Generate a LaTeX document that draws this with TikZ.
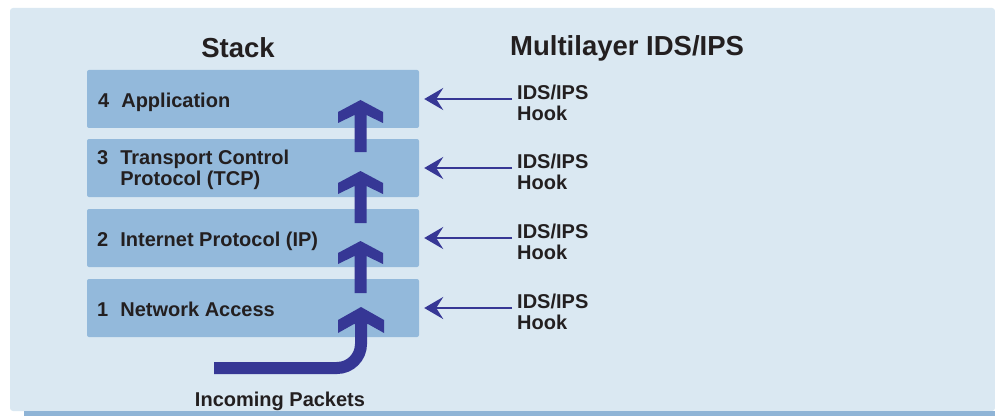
\documentclass[tikz,border=0pt]{standalone}
\usepackage{fontspec}
\setmainfont{Liberation Sans}
\usetikzlibrary{positioning}
\usetikzlibrary{arrows.meta}
\definecolor{panelblue}{HTML}{DAE8F2}
\definecolor{layerblue}{HTML}{93B9DB}
\definecolor{stripblue}{HTML}{8FB4D6}
\definecolor{flowblue}{HTML}{363795}
\definecolor{inkgray}{HTML}{231F20}

\begin{document}
\begin{tikzpicture}[x=1pt, y=-1pt, font=\bfseries, text=inkgray,
	layer/.style={rectangle,rounded corners=2pt,fill=layerblue,minimum width=332pt,minimum height=58pt,inner sep=0pt},
	layertext/.style={anchor=west,inner sep=0pt,font=\fontsize{20}{20.5}\selectfont\bfseries},
	hooktext/.style={anchor=west,inner sep=0pt,align=left,font=\fontsize{20}{21}\selectfont\bfseries},
	titletext/.style={inner sep=0pt,font=\fontsize{27.5}{30}\selectfont\bfseries},
	hookarrow/.style={draw=flowblue,line width=2.5pt,-{Stealth[length=19pt,width=22pt,inset=7pt]},shorten <=5pt,shorten >=5pt},
	uparrow/.pic={\fill[flowblue] (0,0) -- (22.5,12) -- (22.5,23) -- (6,15) -- (6,52) -- (-6,52) -- (-6,15) -- (-22.5,23) -- (-22.5,12) -- cycle;},
	uphead/.pic={\fill[flowblue] (0,0) -- (23,13) -- (23,26) -- (7,17) -- (-7,17) -- (-23,26) -- (-23,13) -- cycle;}]
	\useasboundingbox (0,0) rectangle (995,417);
	\fill[panelblue,rounded corners=3pt] (10,8) rectangle (995,411);
	\fill[stripblue] (24,411) rectangle (995,416);

	\node[titletext] (stacktitle) at (238,48) {Stack};
	\node[titletext,anchor=west] (idstitle) at (510,48) {Multilayer IDS/IPS};

	% the four layers
	\node[layer] (layer4) at (253,99) {};
	\node[layer] (layer3) at (253,168) {};
	\node[layer] (layer2) at (253,238) {};
	\node[layer] (layer1) at (253,308) {};
	\node[layertext] (text4) at (98,103.5) {\begin{tabular}{@{}l@{\hspace{12pt}}l@{}}4 & Application\end{tabular}};
	\node[layertext] (text3) at (97,171) {\begin{tabular}{@{}l@{\hspace{12pt}}l@{}}3 & Transport Control\\ & Protocol (TCP)\end{tabular}};
	\node[layertext] (text2) at (97,242) {\begin{tabular}{@{}l@{\hspace{12pt}}l@{}}2 & Internet Protocol (IP)\end{tabular}};
	\node[layertext] (text1) at (97,312.5) {\begin{tabular}{@{}l@{\hspace{12pt}}l@{}}1 & Network Access\end{tabular}};

	% hooks
	\foreach \n in {1,2,3,4} {
		\node[hooktext,anchor=west] (hook\n) at ([yshift=-4pt]layer\n.east -| 517,0) {IDS/IPS\\Hook};
		\draw[hookarrow] (hook\n.west |- layer\n.east) -- (layer\n.east);
	}

	% packets going up the stack
	\coordinate (tip4) at (360.5,100);
	\coordinate (tip3) at (360.5,171);
	\coordinate (tip2) at (360.5,241);
	\coordinate (tip1) at (361,307);
	\pic at (tip4) {uparrow};
	\pic at (tip3) {uparrow};
	\pic at (tip2) {uparrow};
	\pic at (tip1) {uphead};
	\coordinate (inflow) at (214,368);
	\draw[flowblue,line width=12pt,rounded corners=24pt] ([yshift=-16pt]tip1) |- (inflow);
	\node[layertext,anchor=center] (incoming) at (280,401.5) {Incoming Packets};
\end{tikzpicture}
\end{document}
